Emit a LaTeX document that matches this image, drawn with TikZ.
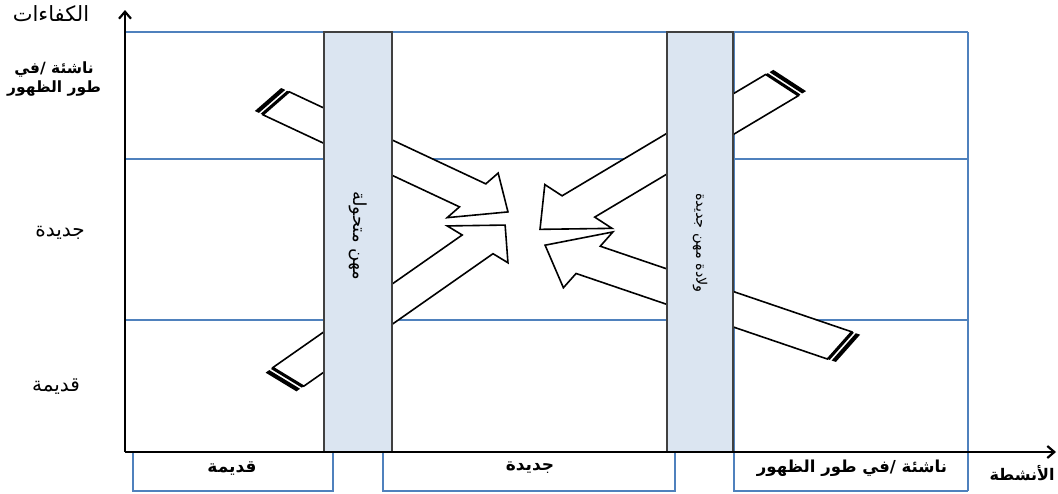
\documentclass[tikz,border=0pt]{standalone}
\usepackage{fontspec}
\usetikzlibrary{arrows.meta}
\TeXXeTstate=1
\newfontfamily\arabicfont[Script=Arabic]{DejaVu Sans}
\definecolor{gridblue}{RGB}{79,129,189}
\definecolor{bandfill}{RGB}{219,229,241}
\definecolor{bandline}{RGB}{64,64,64}

% striped block arrow, local frame: tail at (0,0), pointing along x
% #1 length, #2 head base, #3 half shaft width, #4 half head width
\newcommand{\stripedarrow}[4]{%
  \path[fill=black] (0,-#3) rectangle (4.5,#3);
  \path[fill=black] (6.5,-#3) rectangle (9,#3);
  \path[draw, fill=white, line width=1.6pt, line join=miter]
    (9,-#3) -- (#2,-#3) -- (#2,-#4) -- (#1,0) -- (#2,#4) -- (#2,#3) -- (9,#3) -- cycle;
}

\begin{document}
\begin{tikzpicture}[x=1pt, y=-1pt,
  grid/.style={draw=gridblue, line width=1.5pt},
  band/.style={draw=bandline, fill=bandfill, line width=1.5pt},
  axis/.style={draw, line width=2.2pt, -{Straight Barb[length=7pt, width=12pt]}},
  lbl/.style={font=\arabicfont\fontsize{20}{22}\selectfont},
  blbl/.style={font=\arabicfont\bfseries\fontsize{17}{19}\selectfont, align=center}]
	\useasboundingbox (0,0) rectangle (1058,493);

	% grid
	\path[grid] (125,32) -- (968,32);
	\path[grid] (125,159) -- (968,159);
	\path[grid] (125,320) -- (968,320);
	\path[grid] (391,32) -- (391,452);
	\path[grid] (734,32) -- (734,452);
	\path[grid] (968,32) -- (968,491);

	% boxes under the x axis
	\path[grid] (133,452) -- (133,491) -- (333,491) -- (333,452);
	\path[grid] (383,452) -- (383,491) -- (675,491) -- (675,452);
	\path[grid] (734,452) -- (734,491) -- (968,491);

	% arrows
	\begin{scope}[shift={(268,99.5)}, rotate=-25.1, xslant=0.44]
		\stripedarrow{265}{226}{16}{31}
	\end{scope}
	\begin{scope}[shift={(281,382)}, rotate=35, xslant=-0.44]
		\stripedarrow{273.6}{240}{16.5}{32.5}
	\end{scope}
	\begin{scope}[shift={(789.7,80.5)}, rotate=-149.2, xslant=-0.49]
		\stripedarrow{290.7}{246}{17.5}{36}
	\end{scope}
	\begin{scope}[shift={(848,348.3)}, rotate=161.2, xslant=0.42]
		\stripedarrow{320}{274.5}{16.8}{34.4}
	\end{scope}

	% bands
	\path[band] (324,32) rectangle (392,452);
	\path[band] (667,32) rectangle (733,452);
	\node[lbl, font=\arabicfont\fontsize{18}{20}\selectfont, rotate=-90] (oldband) at (358,236) {\beginR مهن متحولة\endR};
	\node[lbl, font=\arabicfont\fontsize{14.5}{16}\selectfont, rotate=-90] (newband) at (700,243) {\beginR ولادة مهن جديدة\endR};

	% axes
	\coordinate (origin) at (125,452);
	\coordinate (ytop) at (125,10);
	\coordinate (xend) at (1056,452);
	\path[axis] (origin) -- (ytop);
	\path[axis] (origin) -- (xend);

	% labels
	\node[lbl, font=\arabicfont\fontsize{21}{23}\selectfont] (skills) at (51,14) {\beginR الكفاءات\endR};
	\node[blbl, font=\arabicfont\bfseries\fontsize{15.5}{18.5}\selectfont] (emergingrow) at (54,79) {\beginR ناشئة /في\endR\\\beginR طور الظهور\endR};
	\node[lbl] (newrow) at (60,233) {\beginR جديدة\endR};
	\node[lbl] (oldrow) at (56,387) {\beginR قديمة\endR};
	\node[blbl] (oldcol) at (232,469) {\beginR قديمة\endR};
	\node[blbl] (newcol) at (530,468) {\beginR جديدة\endR};
	\node[blbl, font=\arabicfont\bfseries\fontsize{16.5}{19}\selectfont] (emergingcol) at (852,468) {\beginR ناشئة /في طور الظهور\endR};
	\node[blbl, font=\arabicfont\bfseries\fontsize{16}{19}\selectfont] (activities) at (1022,473) {\beginR الأنشطة\endR};
\end{tikzpicture}
\end{document}
